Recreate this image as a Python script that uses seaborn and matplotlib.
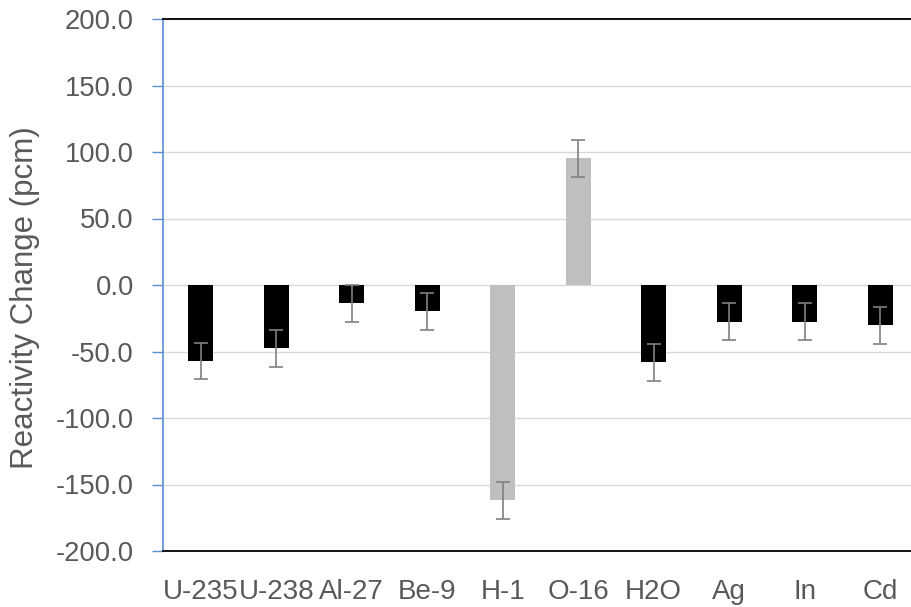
import matplotlib
matplotlib.use("Agg")
import matplotlib.pyplot as plt
import seaborn as sns
import pandas as pd

categories = ["U-235", "U-238", "Al-27", "Be-9", "H-1", "O-16", "H2O", "Ag", "In", "Cd"]
values = [-57.1, -47.6, -13.8, -19.8, -161.9, 95.3, -58.1, -27.6, -27.6, -30.4]
errors = [13.7, 13.9, 14.1, 13.9, 14.0, 13.9, 13.8, 13.8, 13.8, 13.9]
bar_colors = ["#000000", "#000000", "#000000", "#000000", "#BFBFBF",
              "#BFBFBF", "#000000", "#000000", "#000000", "#000000"]
y_ticks = [-200, -150, -100, -50, 0, 50, 100, 150, 200]
y_label = "Reactivity Change (pcm)"

sns.set_style("white")
plt.rcParams["font.family"] = ["Liberation Sans", "DejaVu Sans"]

df = pd.DataFrame({"cat": categories, "val": values})

fig = plt.figure(figsize=(9.12, 6.07), dpi=100)
ax = fig.add_axes([163 / 912, 1 - 551 / 607, (918 - 163) / 912, (551 - 19) / 607])

sns.barplot(data=df, x="cat", y="val", hue="cat", order=categories,
            hue_order=categories, palette=dict(zip(categories, bar_colors)),
            width=0.33, legend=False, errorbar=None, ax=ax,
            linewidth=0, saturation=1, zorder=2)

xs = [p.get_x() + p.get_width() / 2 for p in ax.patches]
ax.errorbar(xs, values, yerr=errors, fmt="none", ecolor="#808080",
            elinewidth=1.2, capsize=4.8, capthick=1.2, zorder=3)

ax.set_xlim(-0.5, 9.5)
ax.set_ylim(-200, 200)
ax.set_yticks(y_ticks)
ax.set_yticklabels([f"{t:.1f}" for t in y_ticks])
ax.yaxis.grid(True, color="#D9D9D9", linewidth=1.0, zorder=0)
ax.xaxis.grid(False)
ax.set_axisbelow(True)

text_color = "#595959"
ax.set_xlabel("")
ax.set_ylabel(y_label, fontsize=22.5, color=text_color)
ax.yaxis.set_label_coords(-0.163, 0.4765)
ax.tick_params(axis="y", which="major", length=8, width=1.0, color="#5B8ED6",
               direction="out", pad=13, labelsize=19.7, labelcolor=text_color, left=True)
ax.tick_params(axis="x", length=0, pad=20, labelsize=20, labelcolor=text_color)

for side in ["top", "bottom"]:
    ax.spines[side].set_color("#000000")
    ax.spines[side].set_linewidth(1.3)
ax.spines["left"].set_color("#5B8ED6")
ax.spines["left"].set_linewidth(1.2)
ax.spines["right"].set_visible(False)

fig.savefig("out.png", dpi=100)
